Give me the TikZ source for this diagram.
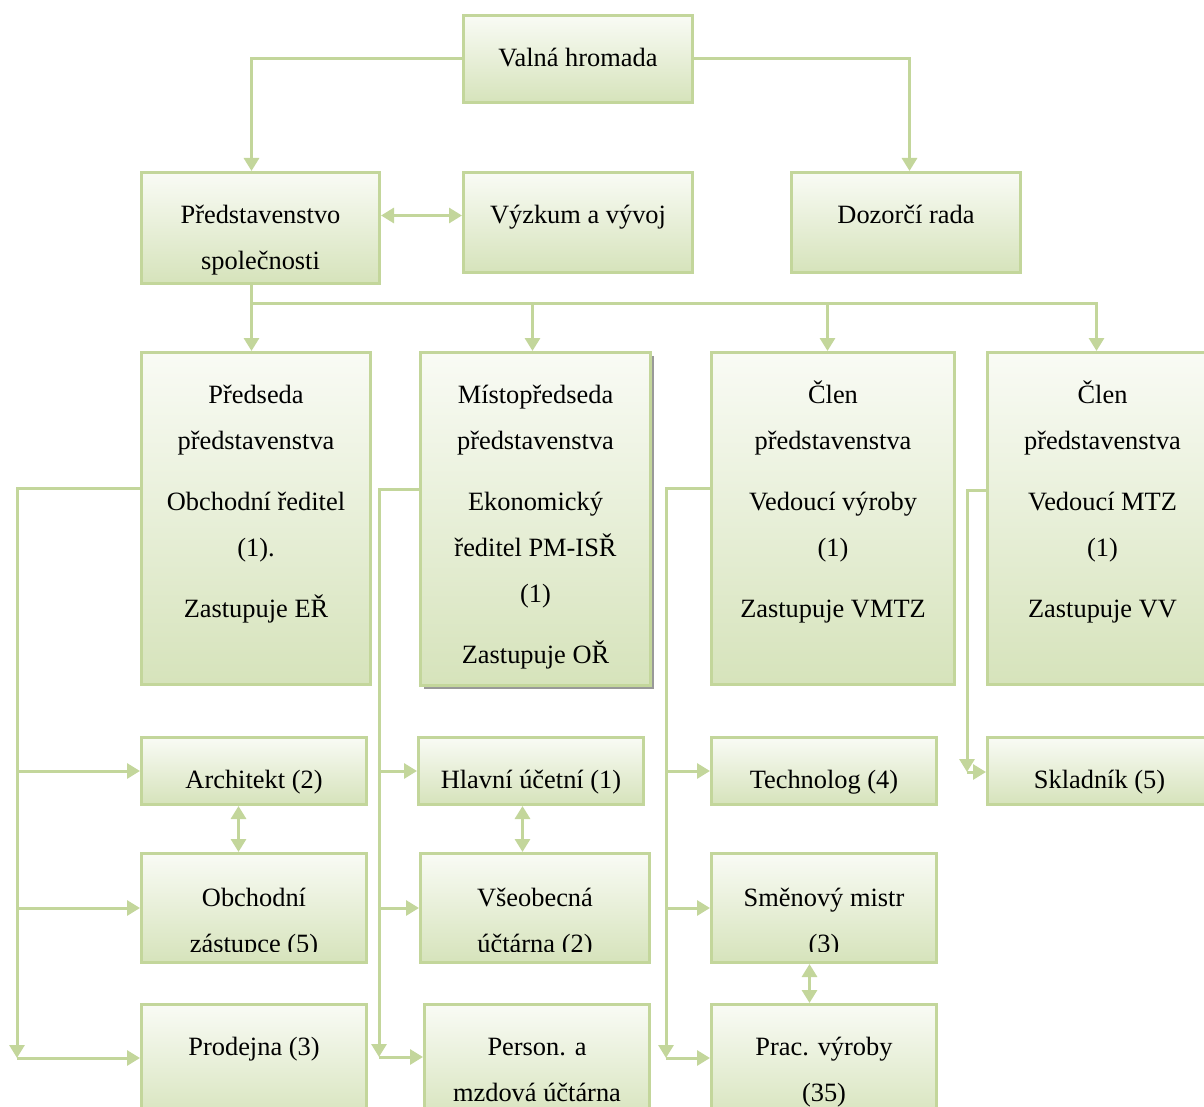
\documentclass[tikz,border=0pt]{standalone}
\usepackage{fontspec}
\setmainfont{Liberation Serif}
\usetikzlibrary{arrows.meta,shadows}
\definecolor{boxline}{RGB}{195,214,155}
\definecolor{boxtop}{RGB}{249,251,245}
\definecolor{boxbottom}{RGB}{214,227,187}
\newcommand{\bx}[3]{\parbox[t][#2][t]{#1}{\fontsize{13.2}{23}\selectfont\centering\rule{0pt}{25.5pt}#3}}

\begin{document}
\begin{tikzpicture}[x=0.5pt, y=-0.5pt,
    box/.style = {draw=boxline, line width=1.5pt, top color=boxtop, bottom color=boxbottom, inner sep=0pt, anchor=north west},
    link/.style = {draw=boxline, line width=1.5pt, -{Triangle[length=6.5pt,width=7.5pt]}},
    both/.style = {link, {Triangle[length=6.5pt,width=7.5pt]}-{Triangle[length=6.5pt,width=7.5pt]}},
    cut/.style = {path picture={\clip ([yshift=5.5pt]path picture bounding box.south west) rectangle (path picture bounding box.north east); \node[anchor=north, inner sep=0pt] at (path picture bounding box.north) {#1};}}]
    \useasboundingbox (0,0) rectangle (1204,1107);

    \node[box] (vh) at (462,14) {\bx{114.5pt}{43.5pt}{Valná hromada}};
    \node[box] (ps) at (140,171) {\bx{119pt}{55.5pt}{Představenstvo\\společnosti}};
    \node[box] (vv) at (462,171) {\bx{114.5pt}{50pt}{Výzkum a vývoj}};
    \node[box] (dr) at (790,171) {\bx{114.5pt}{50pt}{Dozorčí rada}};

    \node[box] (pr) at (140,351) {\bx{114.5pt}{166pt}{Předseda\\představenstva\\[7.5pt]Obchodní ředitel\\(1).\\[7.5pt]Zastupuje EŘ}};
    \node[box, drop shadow={shadow xshift=1.5pt, shadow yshift=-1.5pt, fill=black!40, opacity=1}] (mp) at (419,351) {\bx{115pt}{166.5pt}{Místopředseda\\představenstva\\[7.5pt]Ekonomický\\ředitel PM-ISŘ\\(1)\\[7.5pt]Zastupuje OŘ}};
    \node[box] (c1) at (710,351) {\bx{121.5pt}{166pt}{Člen\\představenstva\\[7.5pt]Vedoucí výroby\\(1)\\[7.5pt]Zastupuje VMTZ}};
    \node[box] (c2) at (986,351) {\bx{115pt}{166pt}{Člen\\představenstva\\[7.5pt]Vedoucí MTZ\\(1)\\[7.5pt]Zastupuje VV}};

    \node[box] (ar) at (140,736) {\bx{112.5pt}{33.5pt}{Architekt (2)}};
    \node[box] (hu) at (417,736) {\bx{112.5pt}{33.5pt}{Hlavní účetní (1)}};
    \node[box] (te) at (710,736) {\bx{112.5pt}{33.5pt}{Technolog (4)}};
    \node[box] (sk) at (986,736) {\bx{112pt}{33.5pt}{Skladník (5)}};

    \node[box, cut={\bx{112.5pt}{54.5pt}{Obchodní\\zástupce (5)}}] (oz) at (140,852) {\bx{112.5pt}{54.5pt}{}};
    \node[box, cut={\bx{114.5pt}{54.5pt}{Všeobecná\\účtárna (2)}}] (vu) at (419,852) {\bx{114.5pt}{54.5pt}{}};
    \node[box, cut={\bx{112.5pt}{54.5pt}{Směnový mistr\\(3)}}] (sm) at (710,852) {\bx{112.5pt}{54.5pt}{}};

    \node[box] (pd) at (140,1003) {\bx{112.5pt}{60pt}{Prodejna (3)}};
    \node[box] (pm) at (423,1003) {\bx{112.5pt}{60pt}{Person. a\\mzdová účtárna}};
    \node[box] (pv) at (710,1003) {\bx{112.5pt}{60pt}{Prac. výroby\\(35)}};

    \coordinate (bus) at (250,303);
    \coordinate (a0) at (17,1058);
    \coordinate (b0) at (379,1057);
    \coordinate (c0) at (666,1058);
    \coordinate (d0) at (967,772);

    \draw[link] (vh.west) -| ([xshift=-4.5pt]ps.north);
    \draw[link] (vh.east) -| ([xshift=1.75pt]dr.north);
    \draw[both] ([yshift=6.25pt]ps.east) -- ([yshift=6.25pt]ps.east -| vv.west);

    \draw[link] ([xshift=-4.5pt]ps.south) -- ([xshift=-2.25pt]pr.north);
    \draw[link] (bus) -| ([xshift=-1.5pt]mp.north);
    \draw[link] (bus) -| ([xshift=-2.75pt]c1.north);
    \draw[link] (bus) -| ([xshift=-3pt]c2.north);

    \draw[link] ([yshift=15pt]pr.west) -| (a0);
    \draw[link] (a0 |- ar.west) -- (ar.west);
    \draw[link] (a0 |- oz.west) -- (oz.west);
    \draw[link] (a0) -- (a0 -| pd.west);

    \draw[link] ([yshift=15pt]mp.west) -| (b0);
    \draw[link] (b0 |- hu.west) -- (hu.west);
    \draw[link] (b0 |- vu.west) -- (vu.west);
    \draw[link] (b0) -- (b0 -| pm.west);

    \draw[link] ([yshift=15pt]c1.west) -| (c0);
    \draw[link] (c0 |- te.west) -- (te.west);
    \draw[link] (c0 |- sm.west) -- (sm.west);
    \draw[link] (c0) -- (c0 -| pv.west);

    \draw[link] ([yshift=14pt]c2.west) -| (d0);
    \draw[link] (d0) -- (d0 -| sk.west);

    \draw[both] ([xshift=-7.75pt]ar.south) -- ([xshift=-7.75pt]ar.south |- oz.north);
    \draw[both] ([xshift=-4.25pt]hu.south) -- ([xshift=-4.25pt]hu.south |- vu.north);
    \draw[both] ([xshift=-7.25pt]sm.south) -- ([xshift=-7.25pt]sm.south |- pv.north);
\end{tikzpicture}
\end{document}
